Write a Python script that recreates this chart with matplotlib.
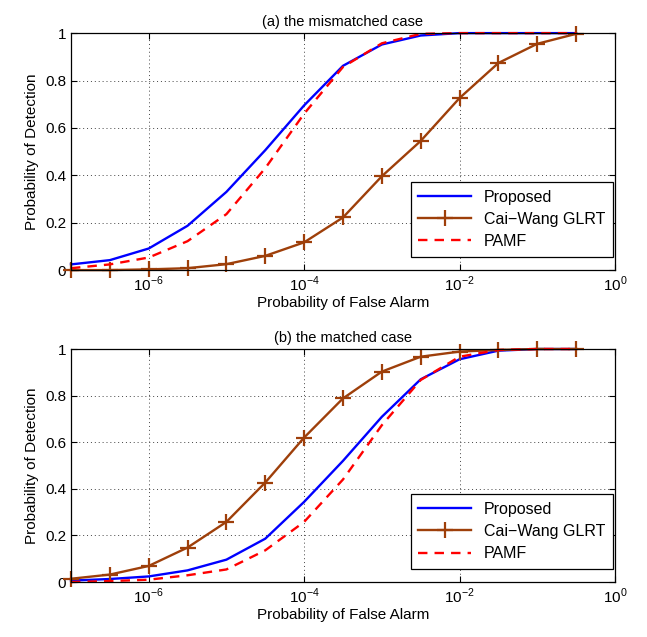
import matplotlib
matplotlib.use('Agg')
import matplotlib.pyplot as plt
import numpy as np
from matplotlib.ticker import FixedLocator, NullLocator, FixedFormatter

plt.rcParams['font.family'] = ['Liberation Sans', 'DejaVu Sans']
plt.rcParams['mathtext.fontset'] = 'custom'
plt.rcParams['mathtext.rm'] = 'Liberation Sans'

# false alarm probabilities (every half decade, 1e-7 .. 10^-0.5)
pfa_exp = [-7, -6.5, -6, -5.5, -5, -4.5, -4, -3.5, -3, -2.5, -2, -1.5, -1, -0.5]
pfa = [10.0 ** e for e in pfa_exp]

# (a) mismatched case
prop_a = [0.024, 0.042, 0.091, 0.187, 0.33, 0.506, 0.695, 0.862, 0.952, 0.99, 1.0, 1.0, 1.0, 1.0]
cai_a = [0.0, 0.0, 0.003, 0.008, 0.025, 0.06, 0.117, 0.222, 0.396, 0.545, 0.726, 0.874, 0.955, 0.997]
pamf_a = [0.008, 0.024, 0.053, 0.122, 0.236, 0.43, 0.66, 0.857, 0.957, 0.997, 1.0, 1.0, 1.0, 1.0]

# (b) matched case
prop_b = [0.006, 0.013, 0.024, 0.05, 0.096, 0.186, 0.344, 0.52, 0.709, 0.87, 0.956, 0.993, 1.0, 1.0]
cai_b = [0.014, 0.032, 0.069, 0.148, 0.258, 0.427, 0.62, 0.788, 0.903, 0.967, 0.989, 0.996, 1.0, 1.0]
pamf_b = [0.0, 0.004, 0.01, 0.029, 0.054, 0.136, 0.258, 0.44, 0.673, 0.867, 0.967, 0.996, 1.0, 1.0]

labels = ['Proposed', 'Cai\u2212Wang GLRT', 'PAMF']
xticks = [1e-6, 1e-4, 1e-2, 1e0]
xticklabels = ['$10^{-6}$', '$10^{-4}$', '$10^{-2}$', '$10^{0}$']
yticks = [0, 0.2, 0.4, 0.6, 0.8, 1]
yticklabels = ['0', '0.2', '0.4', '0.6', '0.8', '1']

blue = '#0000ff'
brown = '#9e3f0a'
red = '#ff0000'

fig = plt.figure(figsize=(6.47, 6.37), dpi=100)
ax1 = fig.add_axes([0.1097, 0.576, 0.8408, 0.372])
ax2 = fig.add_axes([0.1097, 0.0863, 0.8408, 0.3658])


def draw(ax, prop, cai, pamf, title):
    ax.plot(pfa, prop, color=blue, lw=1.7, label=labels[0], clip_on=False)
    ax.plot(pfa, cai, color=brown, lw=1.7, marker='+', ms=11, mew=1.6,
            label=labels[1], clip_on=False)
    ax.plot(pfa, pamf, color=red, lw=1.7, ls=(0, (4, 3)), label=labels[2], clip_on=False)
    ax.set_xscale('log')
    ax.set_xlim(1e-7, 1)
    ax.set_ylim(0, 1)
    ax.xaxis.set_major_locator(FixedLocator(xticks))
    ax.xaxis.set_major_formatter(FixedFormatter(xticklabels))
    ax.xaxis.set_minor_locator(NullLocator())
    ax.set_yticks(yticks)
    ax.set_yticklabels(yticklabels)
    ax.tick_params(direction='in', top=True, right=True, labelsize=11, length=4)
    ax.grid(True, ls=(0, (1, 3)), color='#444444', lw=0.7)
    ax.set_xlabel('Probability of False Alarm', fontsize=11, labelpad=1)
    ax.set_ylabel('Probability of Detection', fontsize=11)
    ax.set_title(title, fontsize=10.5, pad=5)
    for s in ax.spines.values():
        s.set_linewidth(0.9)
    leg = ax.legend(loc='lower right', bbox_to_anchor=(0.997, 0.055), fontsize=11.5,
                    fancybox=False, framealpha=1, edgecolor='black', borderaxespad=0,
                    handlelength=3.3, borderpad=0.5, labelspacing=0.45)
    leg.get_frame().set_linewidth(0.9)


draw(ax1, prop_a, cai_a, pamf_a, '(a) the mismatched case')
draw(ax2, prop_b, cai_b, pamf_b, '(b) the matched case')

fig.savefig('out.png', dpi=100)
